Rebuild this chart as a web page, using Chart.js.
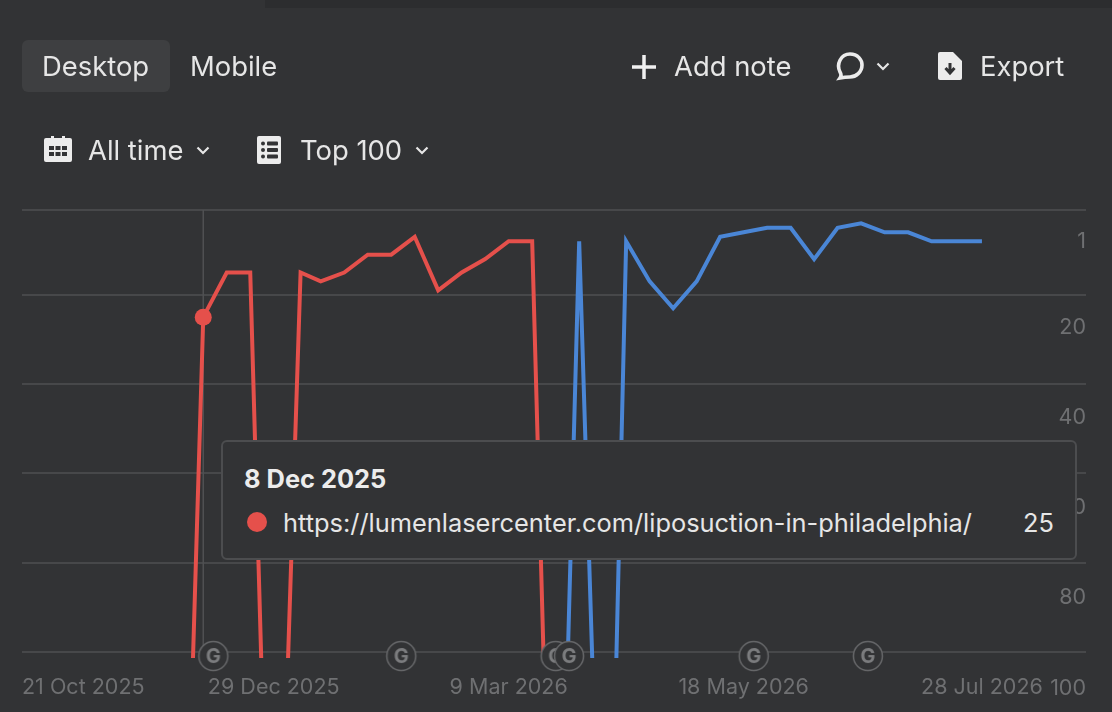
<!DOCTYPE html>
<html>
<head>
<meta charset="utf-8">
<title>Positions</title>
<script src="https://cdn.jsdelivr.net/npm/chart.js@4"></script>
<style>
    html, body { margin: 0; padding: 0; background: #323335; width: 1112px; height: 712px; overflow: hidden; font-family: Inter, sans-serif; }
    #chart1 { position: absolute; left: 0; top: 0; }
    .topbar { position: absolute; left: 265px; top: 0; right: 0; height: 8px; background: #2c2d2f; }
    .tab { position: absolute; left: 22px; top: 40px; width: 148px; height: 52px; border-radius: 6px; background: #3e3f41; }
    .txt { position: absolute; font-size: 27.400px; line-height: 34px; color: #e6e6e6; white-space: nowrap; }
    svg { position: absolute; }
    #tip { position: absolute; left: 221px; top: 440px; width: 852px; height: 116px; background: #323335; border: 2px solid #4c4d4f; border-radius: 6px; }
    #tip .title { position: absolute; left: 21px; top: 21px; font-size: 25.400px; line-height: 32px; font-weight: 700; color: #ececec; }
    #tip .dot { position: absolute; left: 24px; top: 70px; width: 20px; height: 20px; border-radius: 50%; }
    #tip .name { position: absolute; left: 60px; top: 65px; font-size: 25.400px; line-height: 32px; color: #e6e6e6; white-space: nowrap; }
    #tip .val { position: absolute; right: 21px; top: 65px; font-size: 25.400px; line-height: 32px; color: #e6e6e6; }
</style>
</head>
<body>
<canvas id="chart1" width="1112" height="712"></canvas>
<div class="topbar"></div>
<div class="tab"></div>
<span class="txt" style="left:42px;top:49px">Desktop</span>
<span class="txt" style="left:190px;top:49px">Mobile</span>
<span class="txt" style="left:674px;top:49px">Add note</span>
<span class="txt" style="left:980px;top:49px">Export</span>
<span class="txt" style="left:88px;top:133px">All time</span>
<span class="txt" style="left:300px;top:133px">Top 100</span>

<!-- toolbar icons -->
<svg style="left:630px;top:54px" width="28" height="26" viewBox="0 0 28 26"><path d="M14 1v24M2 13h24" stroke="#f0f0f0" stroke-width="3.5"/></svg>
<svg style="left:836px;top:51px" width="28" height="30" viewBox="0 0 28 30"><path d="M4 27c2-3 1-4 0-6-4-8 1-18 10-18 8 0 12 6 12 11 0 7-6 12-12 12-4 0-5 0-10 1z" fill="none" stroke="#ececec" stroke-width="3.6"/></svg>
<svg style="left:938px;top:52px" width="24" height="28" viewBox="0 0 24 28"><path d="M2 0h13l9 9v17a2 2 0 0 1-2 2H2a2 2 0 0 1-2-2V2a2 2 0 0 1 2-2z" fill="#ececec"/><path d="M12 11v9M7.5 16l4.500 5 4.500-5" fill="none" stroke="#323335" stroke-width="3"/></svg>
<svg style="left:44px;top:135px" width="28" height="28" viewBox="0 0 28 28"><path d="M2 3h5V1h3v2h8V1h3v2h5a2 2 0 0 1 2 2v20a2 2 0 0 1-2 2H2a2 2 0 0 1-2-2V5a2 2 0 0 1 2-2z" fill="#ececec"/><path d="M5 11h5v4H5zM11.500 11h5v4h-5zM18 11h5v4h-5zM5 17h5v4H5zM11.500 17h5v4h-5zM18 17h5v4h-5z" fill="#323335"/></svg>
<svg style="left:257px;top:136px" width="24" height="28" viewBox="0 0 24 28"><rect width="24" height="28" rx="2" fill="#ececec"/><g fill="#323335"><circle cx="6" cy="7.500" r="2"/><circle cx="6" cy="14" r="2"/><circle cx="6" cy="20.500" r="2"/><rect x="10" y="5.500" width="11" height="4" rx="1"/><rect x="10" y="12" width="11" height="4" rx="1"/><rect x="10" y="18.500" width="11" height="4" rx="1"/></g></svg>
<svg style="left:196px;top:146px" width="14" height="9" viewBox="0 0 14 9"><path d="M1.500 1.500L7 7l5.500-5.500" fill="none" stroke="#e6e6e6" stroke-width="2.200"/></svg>
<svg style="left:415px;top:146px" width="14" height="9" viewBox="0 0 14 9"><path d="M1.500 1.500L7 7l5.500-5.500" fill="none" stroke="#e6e6e6" stroke-width="2.200"/></svg>
<svg style="left:876px;top:62px" width="14" height="9" viewBox="0 0 14 9"><path d="M1.500 1.500L7 7l5.500-5.500" fill="none" stroke="#e6e6e6" stroke-width="2.200"/></svg>

<div id="tip"><div class="title"></div><div class="dot"></div><div class="name"></div><div class="val"></div></div>

<script>
// dates of the position checks (200 = not in the top 100, line runs off the bottom)
const checkDates = ['2025-12-01', '2025-12-08', '2025-12-15', '2025-12-22', '2025-12-29', '2026-01-06', '2026-01-12',
    '2026-01-19', '2026-01-26', '2026-02-02', '2026-02-09', '2026-02-16', '2026-02-23', '2026-03-02', '2026-03-09',
    '2026-03-16', '2026-03-23', '2026-03-30', '2026-04-07', '2026-04-13', '2026-04-20', '2026-04-27', '2026-05-04',
    '2026-05-11', '2026-05-18', '2026-05-25', '2026-06-01', '2026-06-08', '2026-06-15', '2026-06-22', '2026-06-29',
    '2026-07-06', '2026-07-13', '2026-07-20', '2026-07-28'];
const redRanks = [200, 25, 15, 15, 200, 15, 17, 15, 11, 11, 7, 19, 15, 12, 8, 8, 200];
const blueRanks = [null, null, null, null, null, null, null, null, null, null, null, null, null, null, null, null,
    200, 8, 200, 8, 17, 23, 17, 7, 6, 5, 5, 12, 5, 4, 6, 6, 8, 8, 8];
const redName = 'https://lumenlasercenter.com/liposuction-in-philadelphia/';
const blueName = 'https://lumenlasercenter.com/liposuction/';

const updateDates = ['2025-12-11', '2026-02-05', '2026-03-23', '2026-03-27', '2026-05-21', '2026-06-24'];
const tickDates = ['2025-10-21', '2025-12-29', '2026-03-09', '2026-05-18', '2026-07-28'];
const rankTicks = [1, 20, 40, 60, 80, 100];

const xMin = Date.parse('2025-10-15');
const xMax = Date.parse('2026-08-28');
const hoverIndex = 1;

function fmtDate(ms) {
    return new Date(ms).toLocaleDateString('en-GB', { day: 'numeric', month: 'short', year: 'numeric', timeZone: 'UTC' });
}

function toPoints(ranks) {
    return ranks.map((r, i) => ({ x: Date.parse(checkDates[i]), y: r }));
}

// round "G" marker for google updates
function makeMarker() {
    const c = document.createElement('canvas');
    c.width = 34;
    c.height = 34;
    const g = c.getContext('2d');
    g.beginPath();
    g.arc(17, 17, 14.5, 0, Math.PI * 2);
    g.fillStyle = '#323335';
    g.fill();
    g.lineWidth = 1.5;
    g.strokeStyle = '#68696b';
    g.stroke();
    g.fillStyle = '#7c7d7f';
    g.font = '700 20px Inter';
    g.textAlign = 'center';
    g.textBaseline = 'middle';
    g.fillText('G', 17, 18);
    return c;
}

const crosshair = {
    id: 'crosshair',
    beforeDatasetsDraw(chart) {
        const x = chart.scales.x.getPixelForValue(Date.parse(checkDates[hoverIndex]));
        const c = chart.ctx;
        c.save();
        c.strokeStyle = '#505153';
        c.lineWidth = 1.5;
        c.beginPath();
        c.moveTo(x, chart.chartArea.top);
        c.lineTo(x, chart.chartArea.bottom);
        c.stroke();
        c.restore();
    }
};

function showTip(ctx) {
    const tt = ctx.tooltip;
    if (!tt.dataPoints || !tt.dataPoints.length) return;
    const p = tt.dataPoints[0];
    const tip = document.getElementById('tip');
    tip.querySelector('.title').textContent = tt.title[0];
    tip.querySelector('.dot').style.background = p.dataset.borderColor;
    tip.querySelector('.name').textContent = p.dataset.label;
    tip.querySelector('.val').textContent = p.parsed.y;
}

const lineClip = { left: 0, top: 10, right: 0, bottom: 6 };
const ctx1 = document.getElementById('chart1').getContext('2d');

const chart1 = new Chart(ctx1, {
    type: 'line',
    data: {
        datasets: [{
            label: 'Google updates',
            data: updateDates.map(d => ({ x: Date.parse(d), y: 100.9 })),
            showLine: false,
            pointStyle: makeMarker(),
            pointRadius: 17,
            clip: false,
            order: 0
        }, {
            label: redName,
            data: toPoints(redRanks),
            borderColor: '#e5504b',
            backgroundColor: '#e5504b',
            borderWidth: 4,
            borderJoinStyle: 'miter',
            pointRadius: c => c.dataIndex === hoverIndex ? 8.5 : 0,
            pointBorderWidth: 0,
            clip: lineClip,
            order: 1
        }, {
            label: blueName,
            data: toPoints(blueRanks),
            borderColor: '#4a86d6',
            backgroundColor: '#4a86d6',
            borderWidth: 4,
            borderJoinStyle: 'miter',
            pointRadius: 0,
            clip: lineClip,
            order: 2
        }]
    },
    options: {
        responsive: false,
        animation: false,
        layout: { padding: { left: 22, right: 26, top: 210, bottom: 0 } },
        plugins: {
            legend: { display: false },
            tooltip: {
                enabled: false,
                external: showTip,
                callbacks: {
                    title: items => fmtDate(items[0].parsed.x)
                }
            }
        },
        scales: {
            x: {
                type: 'linear',
                min: xMin,
                max: xMax,
                grid: { display: false },
                border: { display: false },
                // first label is pinned to the left edge, blank last tick keeps 'inner' off the real last label
                afterBuildTicks: s => {
                    s.ticks = [xMin].concat(tickDates.slice(1).map(d => Date.parse(d)), xMax).map(v => ({ value: v }));
                },
                afterFit: s => { s.height = 60; },
                ticks: {
                    align: 'inner',
                    autoSkip: false,
                    maxRotation: 0,
                    padding: 15,
                    color: '#6f7072',
                    font: { family: 'Inter', size: 21.5 },
                    callback: (v, i) => {
                        if (i === 0) return fmtDate(Date.parse(tickDates[0]));
                        return v === xMax ? '' : fmtDate(v);
                    }
                }
            },
            y: {
                position: 'right',
                reverse: true,
                min: 1,
                max: 100,
                border: { display: false },
                grid: { color: '#47484a', lineWidth: 2, drawTicks: false },
                afterBuildTicks: s => { s.ticks = rankTicks.map(v => ({ value: v })); },
                afterFit: s => { s.width = 0; },
                ticks: { display: false }
            },
            // rank labels sit lower than their grid lines and a bit wider apart, so they get their own range
            yLabels: {
                position: 'right',
                reverse: true,
                min: -6.1,
                max: 92,
                border: { display: false },
                grid: { display: false },
                afterBuildTicks: s => { s.ticks = rankTicks.map(v => ({ value: v })); },
                afterFit: s => { s.width = 0; },
                ticks: {
                    mirror: true,
                    padding: 0,
                    autoSkip: false,
                    color: '#6f7072',
                    font: { family: 'Inter', size: 21.5 }
                }
            }
        }
    },
    plugins: [crosshair]
});

chart1.tooltip.setActiveElements([{ datasetIndex: 1, index: hoverIndex }], { x: 203, y: 318 });
chart1.update();
</script>
</body>
</html>
